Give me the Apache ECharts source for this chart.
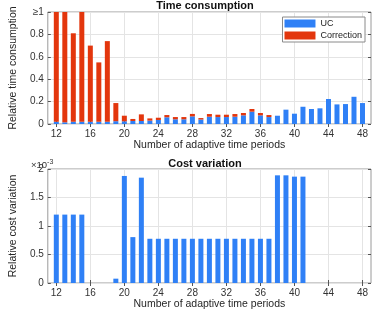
<!DOCTYPE html>
<html><head><meta charset="utf-8">
<script src="https://cdn.jsdelivr.net/npm/echarts@6/dist/echarts.min.js"></script>
<style>html,body{margin:0;padding:0;background:#fff}#c{width:374px;height:312px}</style>
</head><body><div id="c"></div>
<script>
var periods = [12,13,14,15,16,17,18,19,20,21,22,23,24,25,26,27,28,29,30,31,32,33,34,35,36,37,38,39,40,41,42,43,44,45,46,47,48];
var ucTime = [0.02,0.015,0.02,0.02,0.02,0.02,0.02,0.025,0.024,0.027,0.027,0.03,0.036,0.06,0.042,0.042,0.068,0.04,0.065,0.062,0.062,0.065,0.077,0.11,0.077,0.062,0.074,0.128,0.092,0.154,0.134,0.14,0.223,0.175,0.178,0.243,0.187];
var correctionTime = [1.0,1.0,0.79,1.0,0.68,0.53,0.72,0.162,0.05,0.018,0.059,0.02,0.02,0.02,0.02,0.02,0.022,0.013,0.024,0.021,0.021,0.024,0.021,0.024,0.021,0.018,0,0,0,0,0,0,0,0,0,0,0];
var costVariation = [1.2,1.2,1.2,1.2,0,0,0,0.076,1.878,0.805,1.848,0.776,0.776,0.776,0.776,0.776,0.776,0.776,0.776,0.776,0.776,0.776,0.776,0.776,0.776,0.776,1.889,1.889,1.866,1.866,0,0,0,0,0,0,0];
var topTicks = [0,0.2,0.4,0.6,0.8,1];
var bottomTicks = [0,0.5,1,1.5,2];

var FONT = 'Liberation Sans';
var BLUE = '#2f80f6', RED = '#e3360d';
var cats = ['11'].concat(periods.map(String)).concat(['49']);
function pad(a){ return [null].concat(a).concat([null]); }
function showTick(i, v){ var n = Number(v); return n>=12 && n<=48 && (n-12)%4===0; }

function xAx(gi, pos, withLabels){
  return {
    type:'category', gridIndex:gi, data:cats, boundaryGap:false, position:pos,
    name: withLabels ? 'Number of adaptive time periods' : '', nameLocation:'middle', nameGap:16,
    nameTextStyle:{fontFamily:FONT,fontSize:10.5,color:'#262626'},
    axisLine:{show:false},
    axisTick:{show:true, inside:true, length:3, interval:showTick, lineStyle:{color:'#555'}},
    axisLabel:{show:withLabels, interval:showTick, fontFamily:FONT, fontSize:10, color:'#333', margin:5},
    splitLine:{show:withLabels, interval:showTick, lineStyle:{color:'#e4e4e4',width:1}}
  };
}
function yAx(gi, pos, max, interval, name, fmt, withLabels){
  return {
    type:'value', gridIndex:gi, min:0, max:max, interval:interval, position:pos,
    name: withLabels ? name : '', nameLocation:'middle', nameGap:21, nameRotate:90,
    nameTextStyle:{fontFamily:FONT,fontSize:10.5,color:'#262626'},
    axisLine:{show:false},
    axisTick:{show:true, inside:true, length:3, lineStyle:{color:'#555'}},
    axisLabel:{show:withLabels, fontFamily:FONT, fontSize:10, color:'#333', margin:4, formatter:fmt},
    splitLine:{show:withLabels, lineStyle:{color:'#e4e4e4',width:1}}
  };
}

var chart = echarts.init(document.getElementById('c'), null, {renderer:'canvas'});
chart.setOption({
  animation:false,
  backgroundColor:'#fff',
  title:[
    {text:'Time consumption', left:200, top:-5, textAlign:'center', textStyle:{fontFamily:FONT,fontSize:11,fontWeight:'bold',color:'#111'}},
    {text:'Cost variation', left:200, top:153, textAlign:'center', textStyle:{fontFamily:FONT,fontSize:11,fontWeight:'bold',color:'#111'}}
  ],
  legend:{
    data:['UC','Correction'], orient:'vertical', right:9, top:17,
    itemWidth:31, itemHeight:8, itemGap:3, icon:'rect',
    backgroundColor:'#fff', borderColor:'#8a8a8a', borderWidth:1, borderRadius:0, padding:[2,3,2,2],
    textStyle:{fontFamily:FONT,fontSize:9,color:'#222'}
  },
  grid:[
    {left:29, right:3, top:12, height:112, show:true, borderColor:'#9a9a9a', borderWidth:1, backgroundColor:'transparent'},
    {left:29, right:3, top:169, height:114, show:true, borderColor:'#9a9a9a', borderWidth:1, backgroundColor:'transparent'}
  ],
  xAxis:[ xAx(0,'bottom',true), xAx(0,'top',false), xAx(1,'bottom',true), xAx(1,'top',false) ],
  yAxis:[
    yAx(0,'left',1,0.2,'Relative time consumption',function(v){return v===1?'\u22651':String(Math.round(v*10)/10);},true),
    yAx(0,'right',1,0.2,'',null,false),
    yAx(1,'left',2,0.5,'Relative cost variation',function(v){return String(v);},true),
    yAx(1,'right',2,0.5,'',null,false)
  ],
  graphic:[{
    type:'text', left:31, top:159,
    style:{text:'{a|\u00d710}{b|-3}', rich:{a:{fontFamily:FONT,fontSize:9.5,fill:'#333'},b:{fontFamily:FONT,fontSize:7,fill:'#333',verticalAlign:'top',padding:[0,0,6,0]}}}
  }],
  series:[
    {name:'UC', type:'bar', xAxisIndex:0, yAxisIndex:0, stack:'t', barWidth:5, data:pad(ucTime), itemStyle:{color:BLUE}},
    {name:'Correction', type:'bar', xAxisIndex:0, yAxisIndex:0, stack:'t', barWidth:5, data:pad(correctionTime), itemStyle:{color:RED}},
    {name:'Cost', type:'bar', xAxisIndex:2, yAxisIndex:2, barWidth:5, data:pad(costVariation), itemStyle:{color:BLUE}}
  ]
});
</script></body></html>
